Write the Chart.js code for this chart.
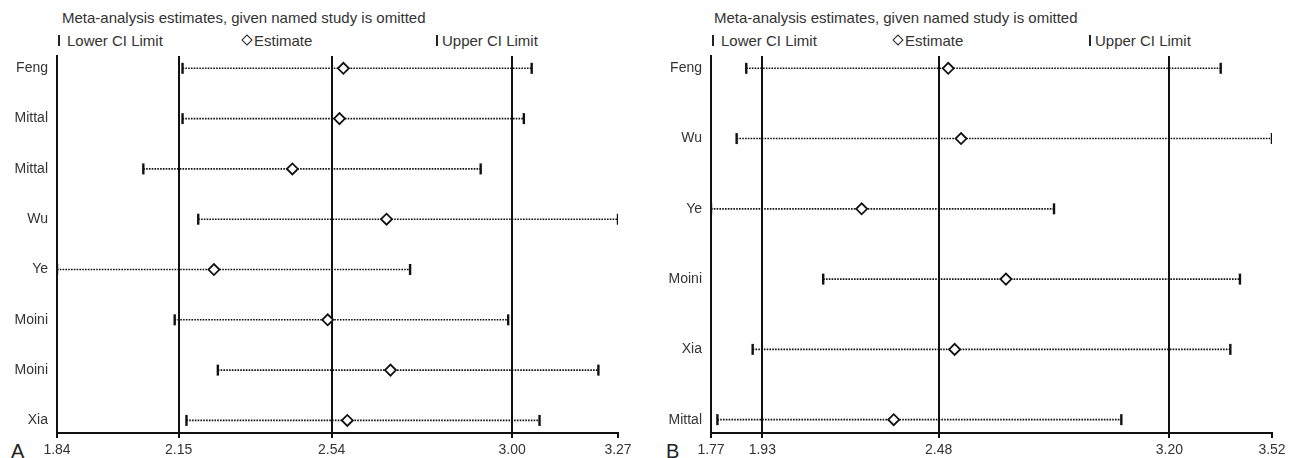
<!DOCTYPE html>
<html lang="en">

<head>
  <meta charset="utf-8">
  <title>Sensitivity analysis</title>
  <script src="https://cdn.jsdelivr.net/npm/chart.js@4.4.0/dist/chart.umd.min.js"></script>
  <style>
    body {
      margin: 0;
      background: #fff;
      font-family: "Liberation Sans", Arial, sans-serif;
      color: #333;
    }

    .panel {
      position: absolute;
      top: 0;
      width: 654px;
      height: 458px;
    }

    .panel canvas {
      position: absolute;
      left: 0;
      top: 0;
    }

    .txt {
      position: absolute;
      font-size: 15px;
      line-height: 15px;
      white-space: nowrap;
    }

    .bar {
      position: absolute;
      width: 2px;
      height: 11px;
      background: #222;
    }

    .dia {
      position: absolute;
      width: 6px;
      height: 6px;
      border: 1.5px solid #222;
      transform: rotate(45deg);
    }

    .letter {
      position: absolute;
      font-size: 20px;
      line-height: 20px;
      color: #222;
    }
  </style>
</head>

<body>

  <div class="panel" style="left:0px">
    <div class="txt" style="left:62px; top:10px">Meta-analysis estimates, given named study is omitted</div>
    <div class="bar" style="left:58px; top:35px"></div>
    <div class="txt" style="left:67px; top:33px">Lower CI Limit</div>
    <div class="dia" style="left:243px; top:36px"></div>
    <div class="txt" style="left:254px; top:33px">Estimate</div>
    <div class="bar" style="left:436px; top:35px"></div>
    <div class="txt" style="left:442px; top:33px">Upper CI Limit</div>
    <div class="letter" style="left:11px; top:441px">A</div>
    <canvas id="chartA" width="654" height="458"></canvas>
  </div>

  <div class="panel" style="left:654px">
    <div class="txt" style="left:60px; top:10px">Meta-analysis estimates, given named study is omitted</div>
    <div class="bar" style="left:58px; top:35px"></div>
    <div class="txt" style="left:67px; top:33px">Lower CI Limit</div>
    <div class="dia" style="left:240px; top:36px"></div>
    <div class="txt" style="left:251px; top:33px">Estimate</div>
    <div class="bar" style="left:435px; top:35px"></div>
    <div class="txt" style="left:441px; top:33px">Upper CI Limit</div>
    <div class="letter" style="left:12px; top:441px">B</div>
    <canvas id="chartB" width="654" height="458"></canvas>
  </div>

  <script>
    // panel A
    var studiesA = ['Feng', 'Mittal', 'Mittal', 'Wu', 'Ye', 'Moini', 'Moini', 'Xia'];
    var estA = [2.57, 2.56, 2.44, 2.68, 2.24, 2.53, 2.69, 2.58];
    var lowerA = [2.16, 2.16, 2.06, 2.20, 1.84, 2.14, 2.25, 2.17];
    var upperA = [3.05, 3.03, 2.92, 3.27, 2.74, 2.99, 3.22, 3.07];
    var ticksA = [1.84, 2.15, 2.54, 3.00, 3.27];

    // panel B
    var studiesB = ['Feng', 'Wu', 'Ye', 'Moini', 'Xia', 'Mittal'];
    var estB = [2.51, 2.55, 2.24, 2.69, 2.53, 2.34];
    var lowerB = [1.88, 1.85, 1.77, 2.12, 1.90, 1.79];
    var upperB = [3.36, 3.52, 2.84, 3.42, 3.39, 3.05];
    var ticksB = [1.77, 1.93, 2.48, 3.20, 3.52];

    function makeChart(id, studies, est, lower, upper, ticks, yTop, yBottom) {
      var datasets = [];
      datasets.push({
        type: 'scatter',
        data: est.map(function (v, i) { return { x: v, y: i }; }),
        pointStyle: 'rectRot',
        pointRadius: 5.5,
        borderWidth: 1.8,
        borderColor: '#111',
        backgroundColor: '#fff'
      });
      [lower, upper].forEach(function (arr) {
        datasets.push({
          type: 'scatter',
          data: arr.map(function (v, i) { return { x: v, y: i }; }),
          pointStyle: 'line',
          rotation: 90,
          pointRadius: 5.5,
          borderWidth: 2.4,
          borderColor: '#111'
        });
      });
      // dotted CI lines, one per study
      for (var i = 0; i < studies.length; i++) {
        datasets.push({
          type: 'line',
          data: [{ x: lower[i], y: i }, { x: upper[i], y: i }],
          borderColor: '#111',
          borderWidth: 1.6,
          borderDash: [1.6, 1.2],
          pointRadius: 0,
          fill: false
        });
      }

      return new Chart(document.getElementById(id), {
        type: 'scatter',
        data: { datasets: datasets },
        options: {
          responsive: false,
          animation: false,
          devicePixelRatio: 1,
          layout: { padding: { left: 0, right: 36, top: 56, bottom: 0 } },
          plugins: { legend: { display: false }, tooltip: { enabled: false } },
          scales: {
            x: {
              type: 'linear',
              min: ticks[0],
              max: ticks[ticks.length - 1],
              afterBuildTicks: function (s) {
                s.ticks = ticks.map(function (v) { return { value: v }; });
              },
              afterFit: function (s) { s.height = 25; },
              ticks: {
                autoSkip: false,
                maxRotation: 0,
                padding: 4,
                color: '#333',
                font: { family: '"Liberation Sans", Arial, sans-serif', size: 14 },
                callback: function (v) { return Number(v).toFixed(2); }
              },
              grid: {
                lineWidth: 2,
                tickLength: 5,
                tickColor: '#111',
                color: function (c) {
                  return c.index === ticks.length - 1 ? 'rgba(0,0,0,0)' : '#111';
                }
              },
              border: { display: true, color: '#111', width: 2 }
            },
            y: {
              type: 'linear',
              reverse: true,
              min: yTop,
              max: studies.length - 1 + yBottom,
              afterBuildTicks: function (s) {
                s.ticks = studies.map(function (_, i) { return { value: i }; });
              },
              afterFit: function (s) { s.width = 57; },
              ticks: {
                autoSkip: false,
                padding: 9,
                color: '#333',
                font: { family: '"Liberation Sans", Arial, sans-serif', size: 14 },
                callback: function (v) { return studies[v]; }
              },
              grid: { display: false, drawTicks: false },
              border: { display: true, color: '#111', width: 2 }
            }
          }
        }
      });
    }

    makeChart('chartA', studiesA, estA, lowerA, upperA, ticksA, -0.245, 0.25);
    makeChart('chartB', studiesB, estB, lowerB, upperB, ticksB, -0.175, 0.19);
  </script>
</body>

</html>
